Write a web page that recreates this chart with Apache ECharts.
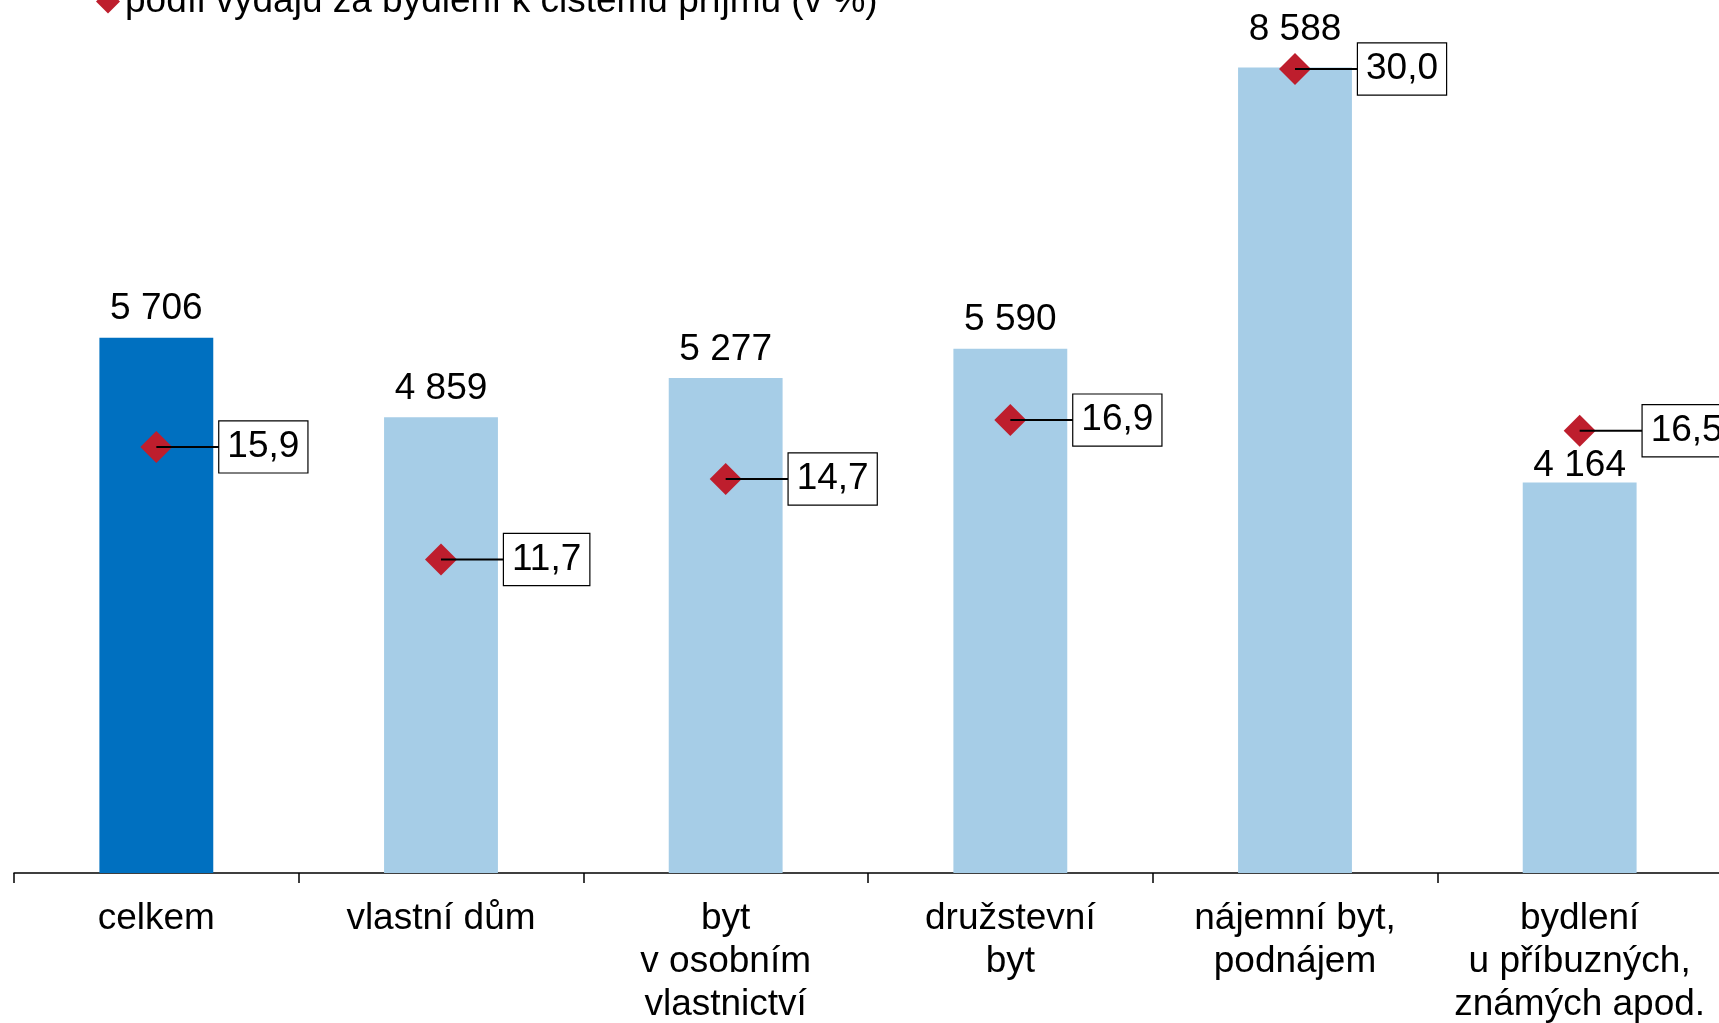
<!DOCTYPE html>
<html>
<head>
<meta charset="utf-8">
<title>Výdaje za bydlení</title>
<script src="https://cdn.jsdelivr.net/npm/echarts@6/dist/echarts.min.js"></script>
<style>
    html, body { margin: 0; padding: 0; background: #fff; }
    #chart { width: 1719px; height: 1023px; }
</style>
</head>
<body>
<div id="chart"></div>
<script>
    // data
    const categories = [
        'celkem',
        'vlastní dům',
        'byt\nv osobním\nvlastnictví',
        'družstevní\nbyt',
        'nájemní byt,\npodnájem',
        'bydlení\nu příbuzných,\nznámých apod.'
    ]
    const expenses = [5706, 4859, 5277, 5590, 8588, 4164]
    const shares = [15.9, 11.7, 14.7, 16.9, 30.0, 16.5]
    const barName = 'průměrné měsíční výdaje za bydlení na osobu (v Kč)'
    const lineName = 'podíl výdajů za bydlení k čistému příjmu (v %)'

    const font = 'Liberation Sans, Arial, sans-serif'
    const dark = '#0070C0'
    const light = '#A6CDE7'
    const red = '#BE1E2D'

    //  manual nudges of a few value labels
    const labelShift = {4: -9, 5: 12}

    const chartDom = document.getElementById('chart')
    const myChart = echarts.init(chartDom)

    const barData = expenses.map(function (v, i) {
        return {
            value: v,
            itemStyle: {color: i === 0 ? dark : light},
            label: {offset: [0, labelShift[i] || 0]}
        }
    })

    let option = {
        animation: false,
        backgroundColor: '#fff',
        textStyle: {fontFamily: font},
        legend: {
            data: [lineName],
            left: 91,
            top: -22,
            icon: 'diamond',
            itemWidth: 24,
            itemHeight: 24,
            itemGap: 10,
            textStyle: {fontSize: 37, color: '#000', fontFamily: font}
        },
        grid: {
            left: 14,
            right: -3,
            top: -65,
            bottom: 150,
            outerBoundsMode: 'none'
        },
        xAxis: {
            type: 'category',
            data: categories,
            axisLine: {lineStyle: {color: '#000', width: 1.5}},
            axisTick: {show: true, length: 10, lineStyle: {color: '#000', width: 1.5}},
            axisLabel: {
                interval: 0,
                color: '#000',
                fontSize: 37,
                lineHeight: 43,
                margin: 24,
                fontFamily: font
            }
        },
        yAxis: [
            {type: 'value', min: 0, max: 10000, show: false, splitLine: {show: false}},
            {type: 'value', min: 0, max: 35, show: false, splitLine: {show: false}}
        ],
        series: [
            {
                name: barName,
                type: 'bar',
                barWidth: '40%',
                data: barData,
                label: {
                    show: true,
                    position: 'top',
                    distance: 10,
                    color: '#000',
                    fontSize: 37,
                    lineHeight: 37,
                    fontFamily: font,
                    formatter: function (p) {
                        return String(p.value).replace(/\B(?=(\d{3})+(?!\d))/g, ' ')
                    }
                }
            },
            {
                name: lineName,
                type: 'line',
                yAxisIndex: 1,
                data: shares,
                symbol: 'diamond',
                symbolSize: 32,
                itemStyle: {color: red},
                lineStyle: {width: 0, opacity: 0},
                z: 5,
                label: {
                    show: true,
                    position: 'inside',
                    align: 'left',
                    verticalAlign: 'middle',
                    formatter: function (p) {
                        return '{l| }{b|' + p.value.toFixed(1).replace('.', ',') + '}'
                    },
                    rich: {
                        l: {
                            width: 63,
                            height: 2,
                            lineHeight: 2,
                            fontSize: 2,
                            backgroundColor: '#000'
                        },
                        b: {
                            fontSize: 37,
                            lineHeight: 38,
                            color: '#000',
                            fontFamily: font,
                            backgroundColor: '#fff',
                            borderColor: '#000',
                            borderWidth: 1.2,
                            padding: [7, 8, 7, 8]
                        }
                    }
                }
            }
        ]
    }

    window.addEventListener('resize', () => {
        myChart.resize()
    })
    option && myChart.setOption(option)
</script>
</body>
</html>
